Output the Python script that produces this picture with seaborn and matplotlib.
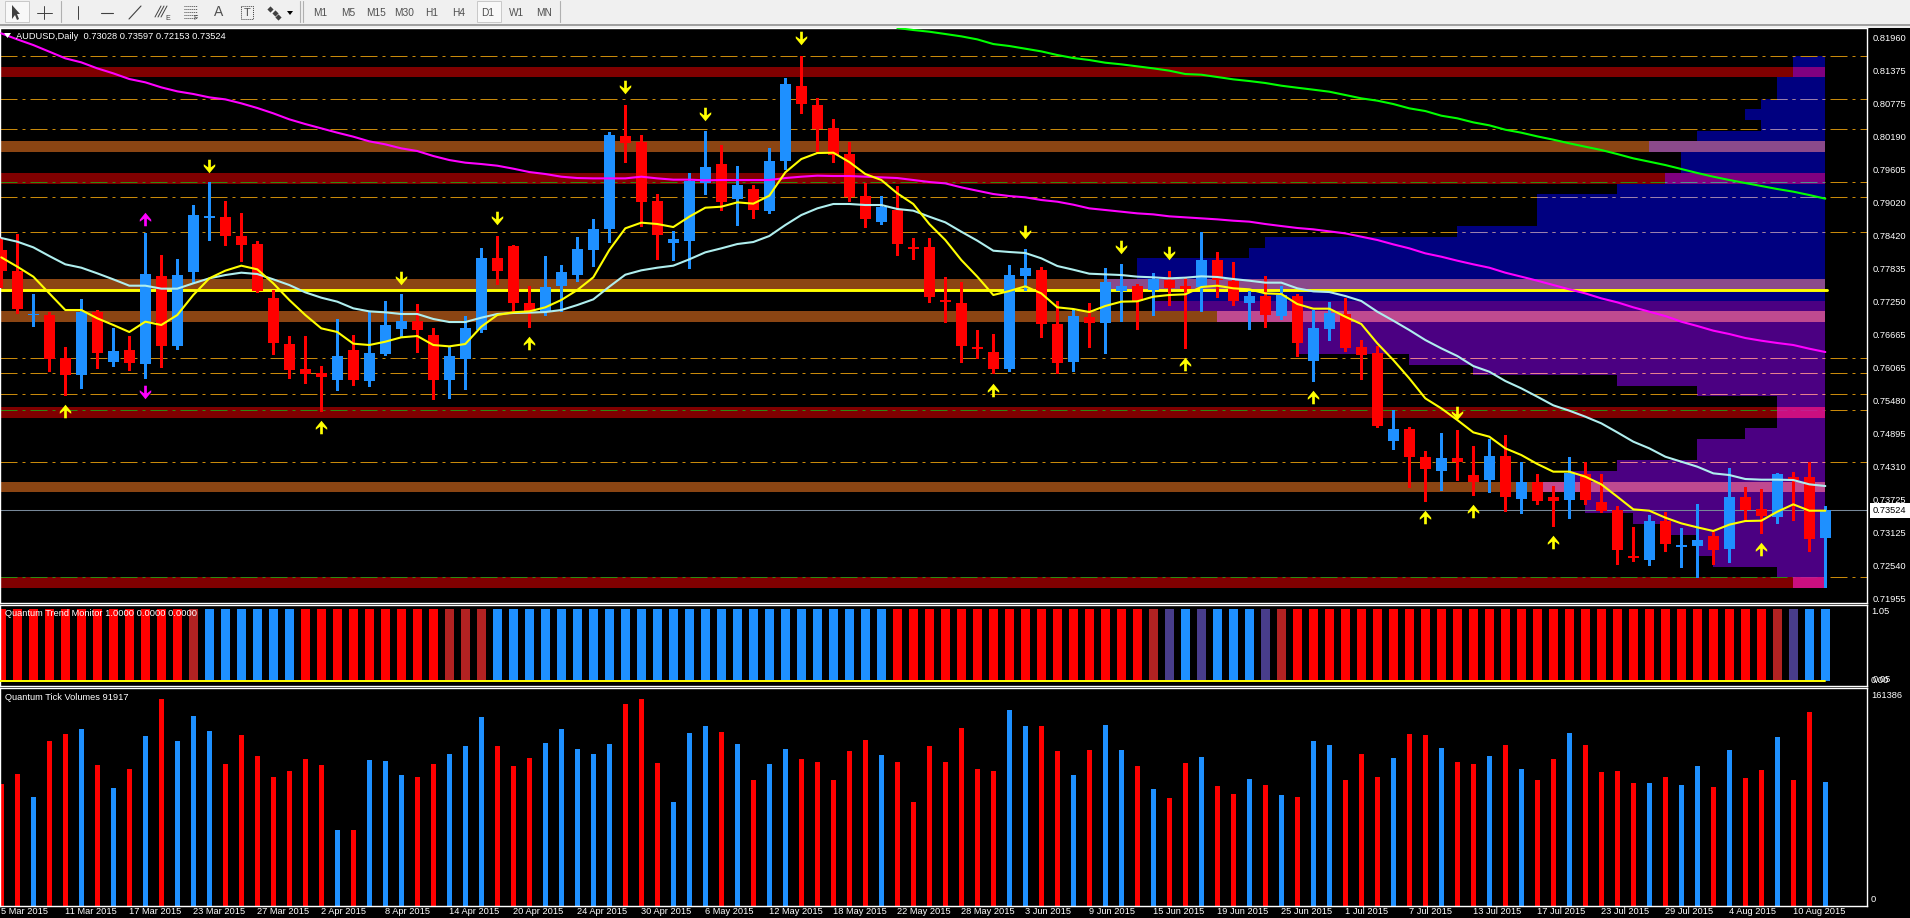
import numpy as np
import pandas as pd
import matplotlib
matplotlib.use("Agg")
import matplotlib.pyplot as plt
from matplotlib.path import Path
from matplotlib.patches import Rectangle
import seaborn as sns

# ---- prices are in points (1e-5) ----
opens = [78166,77792,77007,77007,76240,75937,77066,76169,76383,76133,
         77703,76454,77774,78743,78755,78416,78273,77310,76490,76044,
         75973,75848,76383,75830,76311,76757,76900,76650,75848,76222,
         76739,78024,78238,77221,77060,77524,77720,78166,78541,80199,
         80098,79040,78291,78327,79361,79700,79076,79254,78862,79754,
         81091,80752,80342,79878,79129,78666,78880,78220,78220,77275,
         77221,76436,76347,76044,77703,77810,76846,76169,76971,76864,
         77435,77524,77453,77631,77524,77512,77988,77613,77221,77346,
         76989,77346,76187,76757,77025,76436,76329,74760,74974,74474,
         74225,74457,74153,74064,74492,73725,74029,73761,73707,74171,
         73672,73529,72709,72637,73333,72869,72887,73065,72834,73761,
         73547,73404,74118,74118,73028]
highs = [78374,78452,77382,77066,76436,77292,77096,76781,76632,78475,
         78077,78006,78969,79373,79040,78826,78321,77453,76632,76632,
         76097,76936,76650,77066,77257,77382,77203,76775,76454,76989,
         78202,78416,78255,77524,78059,77899,78398,78719,80271,80752,
         80217,79165,78505,79540,80289,80039,79664,79326,79985,81234,
         81626,80877,80503,80092,79355,79129,79308,78380,78380,77685,
         77596,76739,76668,77899,78184,77863,77257,77096,77221,77845,
         77917,77560,77756,77792,77685,78487,78131,77952,77435,77703,
         77524,77382,77096,77239,77310,76561,76454,75313,75010,74581,
         74902,74956,74671,74795,74867,74385,74171,73957,74474,74385,
         74171,73600,73226,73440,73493,73208,73636,73137,74278,73939,
         73904,74189,74207,74385,73597]
lows = [77512,77037,76817,76008,75580,75705,76062,76097,76026,75883,
        76080,76401,77584,78345,78255,77970,77423,76311,75883,75794,
        75295,75669,75759,75741,76294,76615,76347,75509,75527,75687,
        76704,77560,77060,76793,77007,77078,77613,77881,78309,79736,
        78594,78006,77988,77845,79165,78880,78612,78737,78826,79611,
        80610,79896,79736,79040,78576,78630,78077,78006,77239,76882,
        76169,76240,75973,76008,77453,76615,75973,76008,76436,76329,
        76900,76757,77007,77185,76418,77078,77328,77185,76757,76793,
        76936,76276,75830,76561,76365,75866,75010,74617,73945,73690,
        73886,74064,73797,73850,73511,73476,73636,73244,73386,73636,
        73493,72566,72620,72548,72798,72513,72334,72566,72602,73333,
        73119,73297,73351,72798,72153]
closes = [77798,77114,77025,76222,75937,77066,76329,76365,76151,77738,
          76454,77720,78790,78767,78416,78255,77435,76508,76026,75955,
          75901,76276,75848,76329,76829,76900,76739,75848,76276,76775,
          78024,77792,77221,77078,77506,77774,78184,78541,80217,80075,
          79022,78434,78362,79397,79647,79022,79326,78880,79754,81127,
          80770,80324,79861,79112,78719,78933,78273,78184,77328,77239,
          76454,76401,76044,77720,77845,76846,76151,76989,76864,77596,
          77524,77257,77649,77489,77471,77988,77631,77257,77346,77007,
          77364,76508,76775,77043,76418,76294,75027,74974,74474,74260,
          74457,74385,74029,74492,73761,74029,73690,73690,74189,73707,
          73511,72816,72673,73333,72923,72905,72994,72816,73761,73529,
          73422,74171,74064,73012,73524]

ma_fast = [78035,77869,77691,77393,77096,77096,76948,76829,76704,76888,
           76829,77007,77364,77661,77798,77887,77821,77572,77275,77007,
           76769,76704,76496,76472,76531,76609,76632,76472,76448,76490,
           76799,77007,77055,77072,77144,77275,77453,77679,78166,78553,
           78654,78630,78576,78761,78921,78939,79016,78993,79135,79551,
           79789,79896,79902,79736,79522,79415,79177,78987,78630,78345,
           77988,77691,77364,77435,77518,77393,77144,77114,77060,77168,
           77245,77251,77334,77364,77376,77506,77530,77483,77465,77393,
           77382,77203,77120,77120,76977,76846,76502,76204,75877,75521,
           75342,75134,74914,74837,74629,74510,74350,74213,74213,74124,
           73987,73767,73541,73517,73393,73291,73220,73155,73268,73333,
           73339,73499,73630,73517,73517]
ma_mid = [78380,78315,78214,78059,77911,77851,77750,77643,77530,77530,
          77477,77477,77572,77661,77720,77762,77738,77643,77542,77411,
          77316,77245,77126,77072,77055,77025,77025,76936,76882,76882,
          76959,77025,77043,77049,77060,77096,77185,77286,77512,77726,
          77804,77851,77887,78000,78125,78196,78273,78309,78416,78612,
          78790,78909,78987,78987,78969,78969,78898,78868,78761,78660,
          78493,78333,78154,78131,78113,78018,77881,77815,77744,77732,
          77720,77691,77679,77661,77673,77697,77685,77649,77619,77584,
          77584,77483,77429,77417,77346,77257,77066,76906,76739,76561,
          76412,76276,76097,75996,75830,75699,75550,75396,75301,75194,
          75075,74914,74748,74629,74480,74391,74302,74183,74153,74082,
          74070,74070,74064,73987,73957]
ma_slow = [82030,81923,81822,81704,81585,81513,81406,81317,81216,81157,
           81067,80996,80949,80889,80853,80782,80699,80604,80497,80413,
           80336,80259,80188,80104,80051,79979,79932,79843,79771,79724,
           79700,79670,79617,79557,79522,79474,79450,79444,79444,79444,
           79474,79444,79421,79421,79409,79415,79415,79415,79415,79450,
           79474,79492,79486,79486,79474,79462,79450,79415,79379,79355,
           79284,79224,79165,79129,79106,79058,79028,78975,78909,78880,
           78850,78820,78802,78767,78749,78731,78713,78689,78672,78630,
           78594,78559,78535,78499,78463,78404,78345,78267,78196,78107,
           78047,77976,77911,77851,77762,77691,77619,77542,77465,77393,
           77304,77233,77144,77066,76989,76888,76811,76728,76668,76597,
           76549,76508,76472,76406,76347]
ma_long_start = 56
ma_long = [82126,82090,82060,82019,81977,81923,81840,81805,81757,81709,
           81644,81591,81555,81507,81478,81442,81406,81365,81305,81293,
           81252,81210,81180,81145,81097,81061,81026,80990,80931,80871,
           80830,80770,80693,80645,80562,80515,80443,80390,80312,80259,
           80193,80134,80069,80009,79950,79878,79801,79742,79682,79611,
           79540,79474,79415,79361,79308,79254,79207,79147,79082]

volumes = [90387,97857,80676,122508,126990,130725,104580,87399,101592,125496,
           153135,122508,140436,129231,105327,126243,111303,95616,100098,109062,
           104580,56025,56025,108315,107568,97110,95616,105327,112797,118773,
           139689,118773,103833,109809,121014,130725,116532,112797,120267,149400,
           153135,106074,76941,127737,132966,128484,120267,93375,105327,116532,
           109062,106821,93375,115038,123255,112050,106821,76941,118773,106821,
           131472,101592,100098,144918,132966,132966,115038,97110,115785,133713,
           115785,103833,86652,79929,106074,110556,88893,82917,94122,89640,
           81921,80427,122259,119271,93126,112548,95367,109560,127488,126741,
           117030,106572,105078,111054,119271,101343,93126,108813,128235,119271,
           99102,99849,90885,90885,95367,89391,103584,87897,115536,94620,
           100596,125247,93126,143922,91917]

# trend monitor state per bar: r red, b blue, f firebrick, s slate
trend_runs = [("r",12),("f",1),("b",6),("r",9),("f",3),("b",25),("r",16),("f",1),
              ("s",1),("b",1),("s",1),("b",3),("s",1),("f",1),("r",30),("f",1),
              ("s",1),("b",2)]

price_ticks = [81960,81375,80775,80190,79605,79020,78420,77835,77250,
               76665,76065,75480,74895,74310,73725,73125,72540,71955]
last_price = 73524

band_top = [81430,80110,79540,77649,77078,75366,74029,72334]
band_bot = [81252,79914,79349,77453,76882,75170,73850,72138]
band_kind = ["d","b","d","b","b","d","b","d"]

poc_level = 77447
levels_gold = [81620,80853,80318,79106,78481,76234,75967,75592,74379]
levels_green = [79373,75307,72328]

prof_top = [81620,81430,81252,80853,80681,80485,80289,80110,79914,79540,79349,79165,78594,78398,
            78202,78024,77649,77453,77257,77078,76882,76311,76115,75937,75741,75568,75366,75170,
            74992,74795,74421,74225,74029,73850,73654,73476,73279,73083,72709,72513,72334]
prof_bot = [81430,81252,80853,80681,80485,80289,80110,79914,79540,79349,79165,78594,78398,78202,
            78024,77649,77453,77257,77078,76882,76311,76115,75937,75741,75568,75366,75170,74992,
            74795,74421,74225,74029,73850,73654,73476,73279,73083,72709,72513,72334,72138]
prof_left = [112,112,111,110,109,110,106,103,105,104,101,96,91,79,
             78,71,69,74,72,76,81,88,92,101,106,111,111,111,
             109,106,101,98,96,99,99,102,104,106,107,111,112]
prof_end = 114

arrow_down_i = [13,31,25,39,44,50,64,70,73,91]
arrow_down_p = [79670,78731,77673,81067,80598,81941,78493,78226,78107,75265]
arrow_up_i = [4,20,33,62,74,82,89,92,97,110]
arrow_up_p = [75295,75015,76502,75669,76127,75550,73398,73511,72958,72834]
magenta_up_i, magenta_up_p = [9], [78719]
magenta_dn_i, magenta_dn_p = [9], [75640]

date_labels = ["5 Mar 2015","11 Mar 2015","17 Mar 2015","23 Mar 2015","27 Mar 2015","2 Apr 2015",
               "8 Apr 2015","14 Apr 2015","20 Apr 2015","24 Apr 2015","30 Apr 2015","6 May 2015",
               "12 May 2015","18 May 2015","22 May 2015","28 May 2015","3 Jun 2015","9 Jun 2015",
               "15 Jun 2015","19 Jun 2015","25 Jun 2015","1 Jul 2015","7 Jul 2015","13 Jul 2015",
               "17 Jul 2015","23 Jul 2015","29 Jul 2015","4 Aug 2015","10 Aug 2015"]
timeframes = ["M1","M5","M15","M30","H1","H4","D1","W1","MN"]
header_text = "AUDUSD,Daily  0.73028 0.73597 0.72153 0.73524"
trend_text = "Quantum Trend Monitor 1.0000 0.0000 0.0000"
vol_text = "Quantum Tick Volumes 91917"

# ---- style ----
RED, BLUE = "#FF0000", "#1E90FF"
sns.set_theme(style="dark", rc={"axes.facecolor": "black", "figure.facecolor": "black",
                                "axes.edgecolor": "white", "text.color": "white",
                                "xtick.color": "white", "ytick.color": "white"})
plt.rcParams["font.family"] = ["Liberation Sans", "DejaVu Sans"]
FS = 6.7

W, H, DPI = 1910, 918, 100
fig = plt.figure(figsize=(W / DPI, H / DPI), dpi=DPI, facecolor="black")
AXR = 1867

def pane(top, bottom):
    ax = fig.add_axes([0, 1 - bottom / H, AXR / W, (bottom - top) / H])
    ax.set_facecolor("black")
    for s in ax.spines.values():
        s.set_color("white"); s.set_linewidth(1.0)
    return ax

ax_main = pane(28, 602.7)
ax_trend = pane(604.6, 686)
ax_vol = pane(688, 906)

idx = np.arange(len(closes))
XL = (-1.3 / 16, (AXR - 1.3) / 16)
op, hi, lo, cl = map(np.array, (opens, highs, lows, closes))
up = cl >= op
colors = np.where(up, BLUE, RED)

# ---- main pane ----
ax = ax_main
YL = (71876, 82126)
prof_over = {"d": ("#800080", "#CB0F80"), "b": ("#8B4A8B", "#BF4A90")}
band_col = {"d": "#800000", "b": "#8B4513"}
prof_left_by_top = dict(zip(prof_top, prof_left))
for t, b, k in zip(band_top, band_bot, band_kind):
    ax.barh((t + b) / 2, prof_left_by_top[t] - XL[0], left=XL[0], height=t - b,
            color=band_col[k], linewidth=0, zorder=1)
for t, b, l in zip(prof_top, prof_bot, prof_left):
    above = t > poc_level
    if t in band_top:
        k = band_kind[band_top.index(t)]
        c = prof_over[k][0 if above else 1]
    else:
        c = "#000080" if above else "#4B0082"
    ax.barh((t + b) / 2, prof_end - l, left=l, height=t - b, color=c, linewidth=0, zorder=1)

DASH = (0, (17, 5, 3, 5))
def level(y, color, x0=XL[0], x1=XL[1], z=2):
    ln, = ax.plot([XL[0], XL[1]], [y, y], color=color, lw=0.72, ls=DASH, zorder=z)
    ln.set_clip_path(Rectangle((x0, YL[0]), x1 - x0, YL[1] - YL[0], transform=ax.transData))
def row_left(y):
    for t, b, l in zip(prof_top, prof_bot, prof_left):
        if b <= y < t:
            return l
    return prof_end
for y in levels_gold:
    level(y, "#C8890B")
    l = row_left(y)
    if l < prof_end:
        level(y, "#9A80B0" if y > poc_level else "#E88090", x0=l, x1=prof_end, z=2.1)
for y in levels_green:
    l = row_left(y)
    level(y, "#2E8B10", x1=l)
    level(y, "#4F8F90" if y > poc_level else "#C02090", x0=l, x1=prof_end)
    level(y, "#C8890B", x0=prof_end)

ax.plot([XL[0], prof_end + 0.1], [poc_level, poc_level], color="#FFFF00", lw=2.1, zorder=2.5)
ax.axhline(last_price, color="#778899", lw=0.75, zorder=2.4)

ax.vlines(idx, lo, hi, colors=colors, lw=0.75, zorder=3, antialiased=False)
body_lo, body_hi = np.minimum(op, cl), np.maximum(op, cl)
ax.bar(idx, np.maximum(body_hi - body_lo, 18), bottom=body_lo, width=11 / 16, color=colors,
       linewidth=0, zorder=3.1)

line_specs = [(ma_slow, 0, "#FF00FF"), (ma_long, ma_long_start, "#00FF00"),
              (ma_mid, 0, "#AFEEEE"), (ma_fast, 0, "#FFFF00")]
for i, (vals, start, c) in enumerate(line_specs):
    sns.lineplot(x=idx[start:start + len(vals)], y=vals, color=c, lw=1.5, ax=ax,
                 estimator=None, zorder=4 + i * 0.1)

down_arrow = Path([(-1.3, 6.5), (1.3, 6.5), (1.3, -0.8), (5.5, 2.2), (5.5, 0.2), (0, -6.5),
                   (-5.5, 0.2), (-5.5, 2.2), (-1.3, -0.8), (-1.3, 6.5)], closed=True)
up_arrow = Path(down_arrow.vertices * [1, -1], closed=True)
ARROW = 95
ax.scatter(arrow_down_i, arrow_down_p, marker=down_arrow, s=ARROW, color="#FFFF00", linewidth=0, zorder=5)
ax.scatter(arrow_up_i, arrow_up_p, marker=up_arrow, s=ARROW, color="#FFFF00", linewidth=0, zorder=5)
ax.scatter(magenta_up_i, magenta_up_p, marker=up_arrow, s=ARROW, color="#FF00FF", linewidth=0, zorder=5)
ax.scatter(magenta_dn_i, magenta_dn_p, marker=down_arrow, s=ARROW, color="#FF00FF", linewidth=0, zorder=5)

ax.set_xlim(XL); ax.set_ylim(YL)
ax.set_xticks([]); ax.set_xlabel(""); ax.set_ylabel("")
ax.yaxis.tick_right()
ax.set_yticks(price_ticks)
ax.set_yticklabels([f"{v / 1e5:.5f}" for v in price_ticks], fontsize=FS, color="white")
ax.tick_params(axis="y", length=0, pad=4)
ax.annotate(f"{last_price / 1e5:.5f}", xy=(1873 / AXR, last_price), xycoords=("axes fraction", "data"),
            fontsize=FS, color="black", va="center", ha="left", annotation_clip=False, zorder=20,
            bbox=dict(boxstyle="square,pad=0.35", fc="white", ec="none"))

# ---- trend pane ----
state = [s for s, n in trend_runs for _ in range(n)]
trend_df = pd.DataFrame({"idx": idx, "v": 1.0, "state": state})
ax = ax_trend
sns.barplot(data=trend_df, x="idx", y="v", hue="state", dodge=False, native_scale=True,
            palette={"r": RED, "b": BLUE, "f": "#B22222", "s": "#483D8B"}, width=9 / 16, gap=0,
            saturation=1, errorbar=None, linewidth=0, legend=False, ax=ax)
ax.plot([XL[0], prof_end], [0, 0], color="#FFFF00", lw=1.4, zorder=5)
ax.set_xlim(XL); ax.set_ylim(-0.068, 1.062)
ax.set_xticks([]); ax.set_yticks([]); ax.set_xlabel(""); ax.set_ylabel("")

# ---- volume pane ----
vol_df = pd.DataFrame({"idx": idx, "v": volumes, "dir": np.where(up, "u", "d")})
ax = ax_vol
sns.barplot(data=vol_df, x="idx", y="v", hue="dir", dodge=False, native_scale=True,
            palette={"u": BLUE, "d": RED}, width=5 / 16, gap=0, saturation=1, errorbar=None,
            linewidth=0, legend=False, ax=ax)
ax.set_xlim(XL); ax.set_ylim(0, 161386)
ax.set_yticks([]); ax.set_xlabel(""); ax.set_ylabel("")
ax.set_xticks(idx[::4][:len(date_labels)])
ax.set_xticklabels(date_labels, fontsize=FS, color="white", ha="left")
ax.tick_params(axis="x", length=2.2, width=0.75, pad=-1.2)

# ---- chrome ----
ch = fig.add_axes([0, 0, 1, 1], zorder=30)
ch.set_xlim(0, W); ch.set_ylim(H, 0); ch.axis("off"); ch.patch.set_alpha(0)
ch.add_patch(Rectangle((0, 0), W, 24, color="#F0F0F0", lw=0))
ch.add_patch(Rectangle((0, 24), W, 2, color="#A0A0A0", lw=0))
ch.add_patch(Rectangle((0, 26), W, 2, color="#F0F0F0", lw=0))
ch.add_patch(Rectangle((5, 1), 24, 21, fc="#F8F8F8", ec="#C8C8C8", lw=0.7))
ch.add_patch(Rectangle((477, 1), 24, 21, fc="#F8F8F8", ec="#C8C8C8", lw=0.7))
for xs in (61, 300, 303, 560):
    ch.plot([xs, xs], [1, 22], color="#B0B0B0", lw=0.8)
IC = "#404040"
ch.fill([12, 12, 15, 17, 19, 17, 20], [5, 19, 15, 20, 19, 14, 14], color=IC, lw=0)
ch.plot([44, 44], [6, 19], color=IC, lw=0.7); ch.plot([37, 52], [12.5, 12.5], color=IC, lw=0.7)
ch.plot([78, 78], [6, 19], color=IC, lw=0.7)
ch.plot([101, 113], [12.5, 12.5], color=IC, lw=0.8)
ch.plot([129, 141], [19, 6], color=IC, lw=0.8)
for d in (0, 3, 6):
    ch.plot([155 + d, 161 + d], [17, 6], color=IC, lw=0.7)
for yy in (6, 9, 12, 15, 18):
    ch.plot([184, 197], [yy, yy], color=IC, lw=0.7, ls=(0, (1, 1)))
ch.text(168, 19, "E", fontsize=5, color=IC, ha="center", va="center")
ch.text(196, 19, "F", fontsize=5, color=IC, ha="center", va="center")
ch.text(218.5, 12.5, "A", fontsize=10, color="#505050", ha="center", va="center")
ch.add_patch(Rectangle((241, 6), 12, 13, fc="none", ec=IC, lw=0.7, ls=(0, (1, 1))))
ch.text(247, 12.5, "T", fontsize=8, color="#505050", ha="center", va="center")
ch.scatter([270, 275, 278], [9, 13, 17], marker="D", s=10, color=IC, linewidth=0)
ch.fill([287, 293, 290], [11, 11, 15], color="black", lw=0)
for t, xc in zip(timeframes, (320, 348, 376, 404, 432, 459, 488, 517, 544)):
    ch.text(xc, 12.5, t, fontsize=7.3, color="#505050", ha="center", va="center")
ch.fill([4, 11, 7.5], [33, 33, 38], color="white", lw=0)
ch.text(16, 36.5, header_text, fontsize=FS, color="white", va="center", ha="left")
ch.text(5, 613, trend_text, fontsize=FS, color="white", va="center", ha="left")
ch.text(5, 698, vol_text, fontsize=FS, color="white", va="center", ha="left")
ch.text(1871, 611.7, "1.05", fontsize=FS, color="white", va="center", ha="left")
ch.text(1871, 680.7, "0.00", fontsize=FS, color="white", va="center", ha="left")
ch.text(1873, 680, "0.05", fontsize=FS, color="white", va="center", ha="left")
ch.text(1871, 695.7, "161386", fontsize=FS, color="white", va="center", ha="left")
ch.text(1871, 899.3, "0", fontsize=FS, color="white", va="center", ha="left")

fig.savefig("out.png", dpi=DPI, facecolor="black")
